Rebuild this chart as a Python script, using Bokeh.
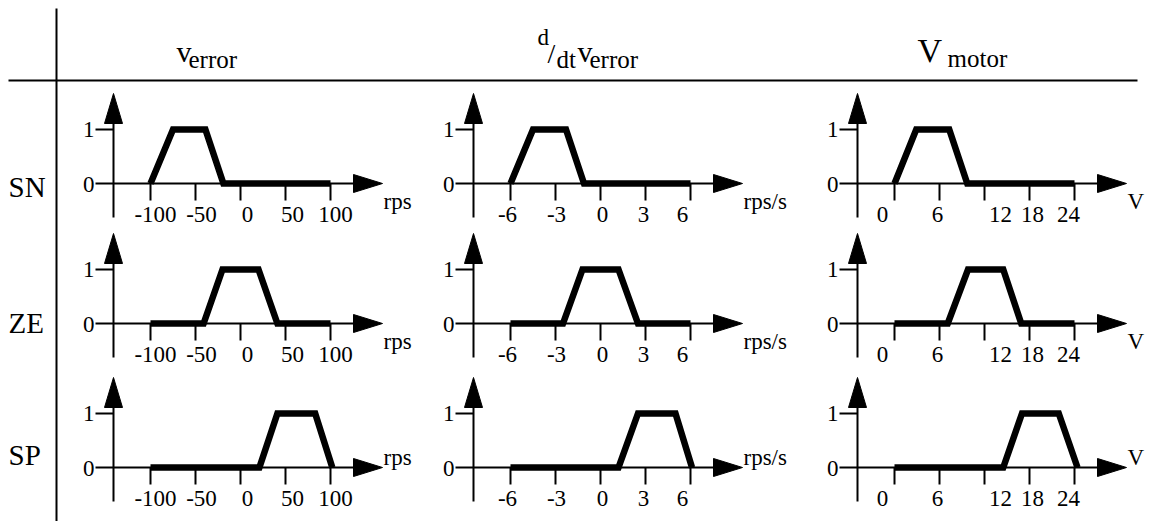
from bokeh.plotting import figure
from bokeh.models import Range1d, ColumnDataSource
from bokeh.core.properties import value
from bokeh.embed import file_html
from bokeh.resources import INLINE

# ---------------- data ----------------
row_labels = ["SN", "ZE", "SP"]
unit_labels = ["rps", "rps/s", "V"]

verror_ticks = [-100, -50, 0, 50, 100]
dverror_ticks = [-6, -3, 0, 3, 6]
vmotor_ticks = [0, 6, 12, 18, 24]
verror_tick_labels = ["-100", "-50", "0", "50", "100"]
dverror_tick_labels = ["-6", "-3", "0", "3", "6"]
vmotor_tick_labels = ["0", "6", "12", "18", "24"]

mu_SN = [0, 1, 1, 0, 0]
mu_ZE = [0, 0, 1, 1, 0, 0]
mu_SP = [0, 0, 1, 1, 0]

verror_SN = [-100, -75, -39, -19, 100]
verror_ZE = [-100, -41, -20, 20, 41, 100]
verror_SP = [-100, 21, 41, 83, 102]

dverror_SN = [-6, -4.5, -2.3, -1.1, 6]
dverror_ZE = [-6, -2.5, -1.2, 1.2, 2.5, 6]
dverror_SP = [-6, 1.2, 2.5, 5.0, 6.1]

vmotor_SN = [0, 2.9, 7.3, 9.7, 24]
vmotor_ZE = [0, 7.1, 9.8, 14.5, 16.9, 24]
vmotor_SP = [0, 14.5, 17.0, 21.9, 24.4]

# ---------------- layout (pixels) ----------------
W, H = 1151, 521
FONT = value("serif")
AX_X = [113, 473, 857]      # y-axis position of each column
ZERO_Y = [183, 323, 467]    # zero line of each row
UNIT_H = 54                 # pixels for membership 1.0
TICK_FIRST, TICK_LAST = 37, 217
TICK_LEN = 17
LABEL_DX = [[5, 6, 7, 7, 5], [-3, 1, 2, -2, -8], [-12, -2, 16, 3, -6]]

columns = [
    (verror_ticks, verror_tick_labels, [verror_SN, verror_ZE, verror_SP]),
    (dverror_ticks, dverror_tick_labels, [dverror_SN, dverror_ZE, dverror_SP]),
    (vmotor_ticks, vmotor_tick_labels, [vmotor_SN, vmotor_ZE, vmotor_SP]),
]
mus = [mu_SN, mu_ZE, mu_SP]

p = figure(width=W, height=H, x_range=Range1d(0, W), y_range=Range1d(H, 0),
           x_axis_type=None, y_axis_type=None, output_backend="svg",
           toolbar_location=None, min_border=0, outline_line_color=None,
           background_fill_color="white", border_fill_color="white")
p.grid.visible = False

# table rules
p.segment(x0=[8, 56], y0=[80, 8], x1=[1137, 56], y1=[80, H],
          line_color="black", line_width=2)

# header texts
hdr_main = ColumnDataSource(dict(x=[176, 577], y=[51, 51], t=["v", "v"]))
p.text(x="x", y="y", text="t", source=hdr_main, text_font=FONT,
       text_font_size="30px", text_baseline="alphabetic", text_align="left")
p.text(x=[917], y=[50], text=["V"], text_font=FONT, text_font_size="34px",
       text_baseline="alphabetic", text_align="left")
hdr_sub = ColumnDataSource(dict(x=[188, 589, 947], y=[59, 59, 58], t=["error", "error", "motor"]))
p.text(x="x", y="y", text="t", source=hdr_sub, text_font=FONT,
       text_font_size="25px", text_baseline="alphabetic", text_align="left")
p.text(x=[537], y=[37], text=["d"], text_font=FONT, text_font_size="23px",
       text_baseline="alphabetic")
p.text(x=[547], y=[53], text=["/"], text_font=FONT, text_font_size="28px",
       text_baseline="alphabetic")
p.text(x=[556], y=[59], text=["dt"], text_font=FONT, text_font_size="25px",
       text_baseline="alphabetic")

# row labels
p.text(x=[8, 8, 8], y=[186, 322, 454], text=row_labels, text_font=FONT,
       text_font_size="29px", text_baseline="middle", text_align="left")

for c, (ticks, tlabels, curves) in enumerate(columns):
    ax = AX_X[c]
    for r in range(3):
        z = ZERO_Y[r]
        # axes
        p.segment(x0=[ax - 18, ax, ax - 18], y0=[z, z + 34, z - UNIT_H],
                  x1=[ax + 245, ax, ax], y1=[z, z - 65, z - UNIT_H],
                  line_color="black", line_width=2)
        p.patches(xs=[[ax - 9, ax + 9, ax], [ax + 240, ax + 240, ax + 269]],
                  ys=[[z - 60, z - 60, z - 90], [z - 9, z + 9, z]],
                  fill_color="black", line_color="black", line_width=1)
        p.text(x=[ax - 19, ax - 19], y=[z - UNIT_H, z + 1], text=["1", "0"],
               text_font=FONT, text_font_size="23px", text_align="right",
               text_baseline="middle")
        uy = z + 18 if r < 2 else z - 10
        p.text(x=[ax + 270], y=[uy], text=[unit_labels[c]], text_font=FONT,
               text_font_size="23px", text_align="left", text_baseline="alphabetic")

        sub = p.subplot(
            x_source=Range1d(ticks[0], ticks[-1]), y_source=Range1d(0, 1),
            x_target=Range1d(ax + TICK_FIRST, ax + TICK_LAST),
            y_target=Range1d(z, z - UNIT_H),
        )
        sub.segment(x0=ticks, y0=[0] * len(ticks), x1=ticks,
                    y1=[-TICK_LEN / UNIT_H] * len(ticks),
                    line_color="black", line_width=2)
        src = ColumnDataSource(dict(x=ticks, y=[0] * len(ticks), t=tlabels, dx=LABEL_DX[c]))
        sub.text(x="x", y="y", text="t", x_offset="dx", y_offset=31, source=src,
                 text_font=FONT, text_font_size="23px", text_align="center",
                 text_baseline="middle")
        sub.line(x=curves[r], y=mus[r], line_color="black", line_width=6.5,
                 line_join="miter", line_cap="butt")

open("out.html", "w").write(file_html(p, INLINE))
